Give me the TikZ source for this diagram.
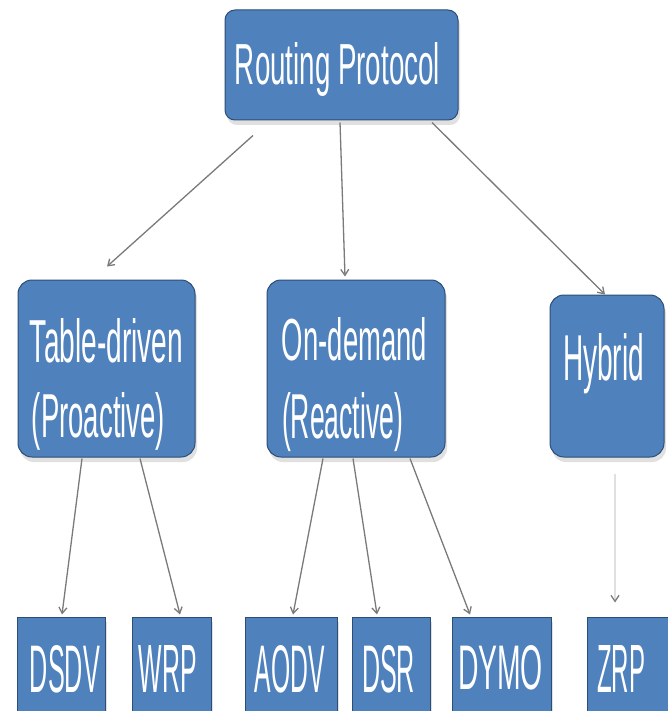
\documentclass[tikz,border=0pt]{standalone}
\usepackage{fontspec}
\setmainfont{Liberation Sans}
\usetikzlibrary{arrows.meta,calc,shadows}
\definecolor{boxblue}{HTML}{4F81BD}
\definecolor{boxedge}{HTML}{2C4D75}
\definecolor{conncol}{HTML}{7A7A7A}
\newcommand\fitt[3]{\resizebox{#1pt}{#2pt}{#3}}
\begin{document}
\begin{tikzpicture}[x=1pt,y=-1pt,
  box/.style={fill=boxblue, draw=boxedge, line width=1pt, rounded corners=10pt, inner sep=0pt,
    general shadow={fill=black!12, shadow xshift=2pt, shadow yshift=-5pt}},
  leaf/.style={box, rounded corners=0pt},
  lbl/.style={anchor=base, inner sep=0pt, text=white},
  conn/.style={draw=conncol, line width=1.3pt, -{Straight Barb[length=6pt,width=8pt]}},
]
\useasboundingbox[fill=white] (0,0) rectangle (668,711);

% boxes
\node[box, minimum width=233pt, minimum height=110pt] (root) at (341.5,65) {};
\node[box, minimum width=177pt, minimum height=177pt, rounded corners=14pt] (td) at (106.5,368.5) {};
\node[box, minimum width=178pt, minimum height=177pt, rounded corners=14pt] (od) at (356,368.5) {};
\node[box, minimum width=114pt, minimum height=162pt, rounded corners=14pt] (hy) at (607,376) {};

\node[leaf, minimum width=88pt, minimum height=94pt] (dsdv) at (61,664) {};
\node[leaf, minimum width=79pt, minimum height=94pt] (wrp) at (171.5,664) {};
\node[leaf, minimum width=92pt, minimum height=94pt] (aodv) at (291,664) {};
\node[leaf, minimum width=78pt, minimum height=94pt] (dsr) at (391,664) {};
\node[leaf, minimum width=99pt, minimum height=94pt] (dymo) at (501.5,664) {};
\node[leaf, minimum width=81pt, minimum height=94pt] (zrp) at (627.5,664) {};

% labels
\node[lbl] (rootT) at (337.5,85) {\fitt{205}{42}{Routing Protocol}};
\node[lbl] (tdA) at (106.5,362) {\fitt{153}{44}{Table-driven}};
\node[lbl] (tdB) at (98.5,437) {\fitt{133}{45}{(Proactive)}};
\node[lbl] (odA) at (354.5,360) {\fitt{145}{43}{On-demand}};
\node[lbl] (odB) at (342.5,438) {\fitt{121}{46}{(Reactive)}};
\node[lbl] (hyT) at (603.5,380) {\fitt{81}{47}{Hybrid}};
\node[lbl] (dsdvT) at (65,692) {\fitt{70}{47}{DSDV}};
\node[lbl] (wrpT) at (168,692) {\fitt{58}{47}{WRP}};
\node[lbl] (aodvT) at (290,692) {\fitt{70}{47}{AODV}};
\node[lbl] (dsrT) at (388.5,692) {\fitt{53}{47}{DSR}};
\node[lbl] (dymoT) at (500.5,689) {\fitt{85}{44}{DYMO}};
\node[lbl] (zrpT) at (621,692) {\fitt{48}{47}{ZRP}};

% connectors
\draw[conn] ($(root.south)+(-88.5,15)$) -- ($(td.north)+(0.5,-13)$);
\draw[conn] ($(root.south)+(-1.5,2)$) -- ($(od.north)+(-11,-3)$);
\draw[conn] ($(root.south)+(90.5,2)$) -- ($(hy.north)+(-2,0)$);
\draw[conn] ($(td.south)+(-24.5,1)$) -- ($(dsdv.north)+(1,-2)$);
\draw[conn] ($(td.south)+(33.5,1)$) -- ($(wrp.north)+(8.5,-2)$);
\draw[conn] ($(od.south)+(-33,1)$) -- ($(aodv.north)+(2,-2)$);
\draw[conn] ($(od.south)+(-3,1)$) -- ($(dsr.north)+(-14,-2)$);
\draw[conn] ($(od.south)+(54,1)$) -- ($(dymo.north)+(-31.5,-2)$);
\draw[conn, draw=black!12, -{Straight Barb[length=6pt,width=8pt,color=conncol]}] ($(hy.south)+(8,16)$) -- ($(zrp.north)+(-12.5,-14)$);
\end{tikzpicture}
\end{document}
